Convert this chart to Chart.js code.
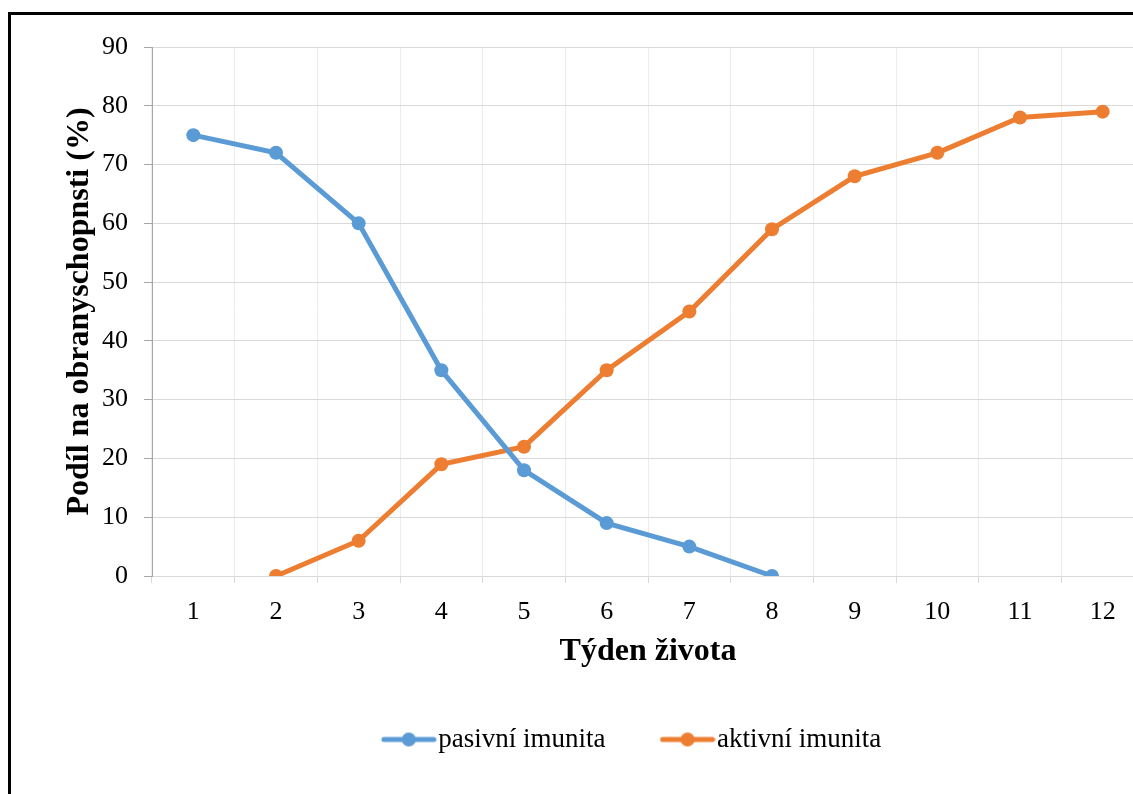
<!DOCTYPE html>
<html lang="cs">
<head>
    <meta charset="UTF-8">
    <title>Imunita</title>
    <script src="https://cdn.jsdelivr.net/npm/chart.js"></script>
    <style>
        html, body { margin: 0; padding: 0; background: #fff; overflow: hidden; }
        .ramecek {
            position: absolute; left: 8px; top: 12px; width: 1300px; height: 900px;
            border-left: 3px solid #000; border-top: 3px solid #000;
        }
        .platno { position: absolute; left: 0; top: 0; width: 1180px; height: 840px; }
    </style>
</head>
<body>
    <div class="ramecek"></div>
    <div class="platno"><canvas id="myChart" width="1180" height="840"></canvas></div>

    <script>
    // data
    const tydny = ['1', '2', '3', '4', '5', '6', '7', '8', '9', '10', '11', '12'];
    const pasivni = [75, 72, 60, 35, 18, 9, 5, 0, null, null, null, null];
    const aktivni = [null, 0, 6, 19, 22, 35, 45, 59, 68, 72, 78, 79];
    const yTicks = [0, 10, 20, 30, 40, 50, 60, 70, 80, 90];

    const modra = '#5b9bd5';
    const oranzova = '#ed7d31';
    const pismo = "'Liberation Serif', 'Times New Roman', serif";

    // legend symbol: line with a dot in the middle
    function symbol(barva) {
        const c = document.createElement('canvas');
        c.width = 56; c.height = 16;
        const g = c.getContext('2d');
        g.strokeStyle = barva; g.lineWidth = 5; g.lineCap = 'round';
        g.beginPath(); g.moveTo(3, 8); g.lineTo(53, 8); g.stroke();
        g.fillStyle = barva;
        g.beginPath(); g.arc(28, 8, 7, 0, Math.PI * 2); g.fill();
        return c;
    }
    const symboly = [symbol(modra), symbol(oranzova)];

    // legend is not centred on the canvas in the original, move it a bit right
    const posunLegendy = {
        id: 'posunLegendy',
        afterLayout(chart) {
            chart.legend.left += 65;
            chart.legend.right += 65;
        }
    };

    const ctx = document.getElementById('myChart');

    const chartData = {
        labels: tydny,
        datasets: [
            {
                label: 'pasivní imunita',
                data: pasivni,
                borderColor: modra,
                backgroundColor: modra,
            },
            {
                label: 'aktivní imunita',
                data: aktivni,
                borderColor: oranzova,
                backgroundColor: oranzova,
            },
        ],
    };

    const chartConfig = {
        type: 'line',
        data: chartData,
        options: {
            responsive: false,
            animation: false,
            spanGaps: false,
            layout: { padding: { top: 47, left: 0, right: 36, bottom: 77 } },
            elements: {
                line: { borderWidth: 5, tension: 0 },
                point: { radius: 7, hoverRadius: 7, borderWidth: 0 },
            },
            plugins: {
                tooltip: { enabled: false },
                legend: {
                    position: 'bottom',
                    labels: {
                        color: '#000',
                        font: { family: pismo, size: 27 },
                        usePointStyle: true,
                        pointStyleWidth: 32,
                        padding: 66,
                        generateLabels: function (chart) {
                            const items = Chart.defaults.plugins.legend.labels.generateLabels(chart);
                            items.forEach((it, i) => { it.pointStyle = symboly[i]; });
                            return items;
                        },
                    },
                },
            },
            scales: {
                x: {
                    offset: true,
                    grid: { offset: true, color: '#ececec', tickColor: '#d9d9d9', tickLength: 7 },
                    border: { color: '#d9d9d9' },
                    ticks: { color: '#000', padding: 14, font: { family: pismo, size: 26 } },
                    title: {
                        display: true,
                        text: 'Týden života',
                        color: '#000',
                        font: { family: pismo, size: 32, weight: 'bold' },
                        padding: { top: 0, bottom: -11 },
                    },
                    afterFit: function (scale) { scale.height = 84; },
                },
                y: {
                    min: 0,
                    max: 90,
                    afterBuildTicks: function (scale) {
                        scale.ticks = yTicks.map(v => ({ value: v }));
                    },
                    grid: { color: '#d9d9d9', tickColor: '#a6a6a6', tickLength: 8 },
                    border: { color: '#a6a6a6' },
                    ticks: { color: '#000', padding: 16, font: { family: pismo, size: 26 } },
                    title: {
                        display: true,
                        text: 'Podíl na obranyschopnsti (%)',
                        color: '#000',
                        font: { family: pismo, size: 32, weight: 'bold' },
                        padding: { top: 61, bottom: 0 },
                    },
                    afterFit: function (scale) { scale.width = 152; },
                },
            },
        },
        plugins: [posunLegendy],
    };

    const myChart = new Chart(ctx, chartConfig);
    </script>
</body>
</html>
